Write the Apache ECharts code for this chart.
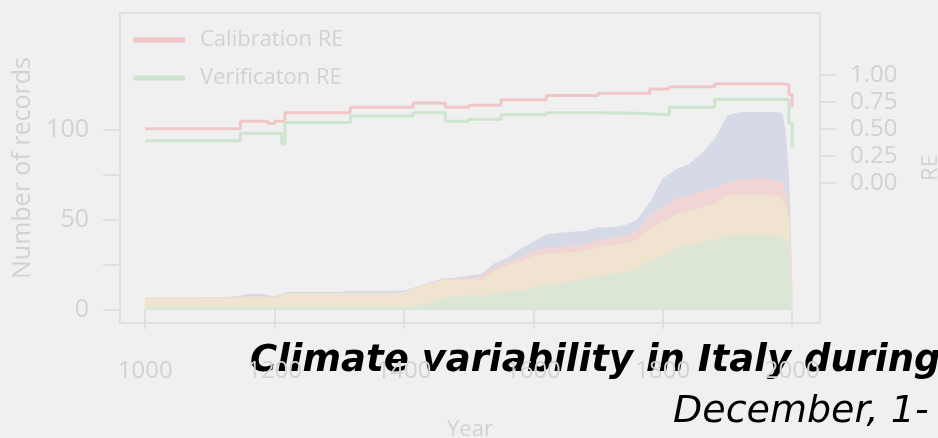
<!DOCTYPE html>
<html>
<head>
<meta charset="utf-8">
<script src="https://cdn.jsdelivr.net/npm/echarts@6/dist/echarts.min.js"></script>
<style>
  html, body { margin: 0; padding: 0; background: #f0f0f0; }
  #main { width: 938px; height: 438px; }
</style>
</head>
<body>
<div id="main"></div>
<script>
// years for the stacked record counts
var years = [1000,1020,1040,1060,1080,1100,1120,1140,1160,1180,1200,1220,1240,1260,1280,1300,1320,1340,1360,1380,
  1400,1420,1440,1460,1480,1500,1520,1540,1560,1580,1600,1620,1640,1660,1680,1700,1720,1740,1760,1780,
  1800,1820,1840,1860,1880,1900,1920,1940,1960,1980,1985,1990,1995,2000];
// layer thickness, bottom to top
var greenRecs = [2,2,2,2,2,2,2,2,2,2,2,2,2,2,2,2,2,2,2,2,
  2,2.5,4,7,7.5,8,8,9.5,10.5,11,12.5,14,14.5,16,17.5,19,20,21,23,27,
  30,34,36,37.5,39,41.5,41.5,41.5,41.5,41,40.5,38,36,0];
var orangeRecs = [5,5,5,5,5,5,5,5,5.5,5.5,5,7.5,7.5,7.5,7.5,7.5,7.5,7.5,7.5,7.5,
  8,10,11,10,9.5,9,9,12.5,14.5,16,17.5,17,17.5,16,15.5,16,16,16,16,18,
  19,19,19,19.5,20,22.5,22.5,22.5,22.5,22,21.5,20,16,12];
var redRecs = [0,0,0,0,0,0,0,0,0,0,0,0,0,0,0,0,0,0,0,0,
  0,0,0,0,0.5,1,2,2.5,2,2.5,3,3.5,3,4,4,4,4,4.5,5,8,
  8,9,9,9,9,7,9,9,9,9,9,9,6,3];
var blueRecs = [0,0,0,0,0,0.3,0.3,0.5,1.5,1.5,0.5,0.5,0.5,0.5,0.5,0.5,1.2,1.2,1.2,1.2,
  0.7,0.5,0.5,0.5,0.5,1,1,1.5,2,4.5,5,7.5,8,7.5,7,7,6,5.5,6,7,
  16,16,17,21,27,37,37,37,37,38,38,33,17,2];

// RE curves (right axis)
var calYears = [1000,1147,1190,1200,1216,1317,1414,1464,1500,1550,1620,1700,1780,1810,1880,1985,1995,2000];
var calRE = [0.50,0.57,0.55,0.57,0.65,0.70,0.74,0.70,0.72,0.77,0.81,0.83,0.87,0.89,0.92,0.91,0.82,0.70];
var verYears = [1000,1147,1211,1216,1317,1414,1464,1500,1550,1620,1700,1760,1810,1880,1985,1995,2000];
var verRE = [0.39,0.46,0.36,0.56,0.62,0.65,0.57,0.59,0.63,0.65,0.645,0.63,0.70,0.775,0.77,0.55,0.33];

// tick labels
var yearTicks = [1000,1200,1400,1600,1800,2000];
var countTicks = [0,25,50,75,100];
var countLabels = [0,50,100];
var reTicks = [0,0.25,0.5,0.75,1];

var greyText = '#d2d2d2';
var greyLine = '#e0e0e0';
var labelFont = 'Open Sans';

// running top of each layer (stack done here, drawn top layer first)
var layers = [greenRecs, orangeRecs, redRecs, blueRecs];
var layerColors = ['#dbe6d6', '#f0e3d0', '#f0d5d5', '#d6d9e6'];
var layerNames = ['green', 'orange', 'red', 'blue'];
var tops = [];
var running = years.map(function () { return 0; });
layers.forEach(function (layer) {
  running = running.map(function (v, i) { return v + layer[i]; });
  tops.push(running);
});

function pairs(xs, ys) {
  return xs.map(function (x, i) { return [x, ys[i]]; });
}

function areaSeries(name, data, color) {
  return {
    name: name,
    type: 'line',
    yAxisIndex: 0,
    symbol: 'none',
    silent: true,
    lineStyle: { width: 0 },
    areaStyle: { color: color, opacity: 1, origin: 'auto' },
    data: pairs(years, data)
  };
}

function reSeries(name, xs, ys, color) {
  return {
    name: name,
    type: 'line',
    yAxisIndex: 1,
    step: 'end',
    symbol: 'none',
    silent: true,
    lineStyle: { width: 3, color: color },
    itemStyle: { color: color },
    data: pairs(xs, ys)
  };
}

var series = [];
for (var k = layers.length - 1; k >= 0; k--) {
  series.push(areaSeries(layerNames[k], tops[k], layerColors[k]));
}
series.push(reSeries('Calibration RE', calYears, calRE, '#f1c6c8'));
series.push(reSeries('Verificaton RE', verYears, verRE, '#cde4cd'));

var chart = echarts.init(document.getElementById('main'));
var option = {
  animation: false,
  backgroundColor: '#f0f0f0',
  grid: {
    left: 120, top: 13, width: 700, height: 310,
    outerBoundsMode: 'none',
    containLabel: false,
    show: true, borderColor: greyLine, borderWidth: 2, backgroundColor: 'transparent'
  },
  legend: {
    data: ['Calibration RE', 'Verificaton RE'],
    orient: 'vertical',
    left: 128, top: 23,
    itemWidth: 52, itemHeight: 5, itemGap: 14,
    icon: 'rect',
    textStyle: { color: greyText, fontSize: 22, fontFamily: labelFont, lineHeight: 24, padding: [0, 0, 0, 10] }
  },
  xAxis: {
    type: 'value',
    min: 961, max: 2043,
    name: 'Year',
    nameLocation: 'middle',
    nameGap: 96,
    nameTextStyle: { color: greyText, fontSize: 22, fontFamily: labelFont },
    axisLine: { show: false },
    splitLine: { show: false },
    axisTick: { customValues: yearTicks, length: 19, lineStyle: { color: greyLine, width: 2 } },
    axisLabel: {
      customValues: yearTicks, color: greyText, fontSize: 24, fontFamily: labelFont, margin: 36,
      formatter: function (v) { return String(v); }
    }
  },
  yAxis: [{
    type: 'value',
    position: 'left',
    min: -7.2, max: 165,
    name: 'Number of records',
    nameLocation: 'middle',
    nameGap: 85,
    nameTextStyle: { color: greyText, fontSize: 25, fontFamily: labelFont },
    axisLine: { show: false },
    splitLine: { show: false },
    axisTick: { show: true, customValues: countTicks, length: 17, lineStyle: { color: greyLine, width: 2 } },
    axisLabel: { customValues: countLabels, color: greyText, fontSize: 25, fontFamily: labelFont, margin: 31 }
  }, {
    type: 'value',
    position: 'right',
    min: -1.303, max: 1.576,
    name: 'RE',
    nameLocation: 'middle',
    nameGap: 100,
    nameTextStyle: { color: greyText, fontSize: 22, fontFamily: labelFont },
    axisLine: { show: false },
    splitLine: { show: false },
    axisTick: { show: true, customValues: reTicks, length: 16, lineStyle: { color: greyLine, width: 2 } },
    axisLabel: {
      customValues: reTicks, color: greyText, fontSize: 24, fontFamily: labelFont, margin: 30,
      formatter: function (v) { return v.toFixed(2); }
    }
  }],
  series: series,
  // overlay title from the slide
  graphic: [{
    type: 'text',
    left: 250, top: 343,
    style: {
      text: 'Climate variability in Italy during',
      fill: '#000',
      font: 'italic bold 37px "DejaVu Sans"'
    }
  }, {
    type: 'text',
    left: 673, top: 393,
    style: {
      text: 'December, 1-',
      fill: '#000',
      font: 'italic 38px "DejaVu Sans"'
    }
  }]
};
chart.setOption(option);
</script>
</body>
</html>
